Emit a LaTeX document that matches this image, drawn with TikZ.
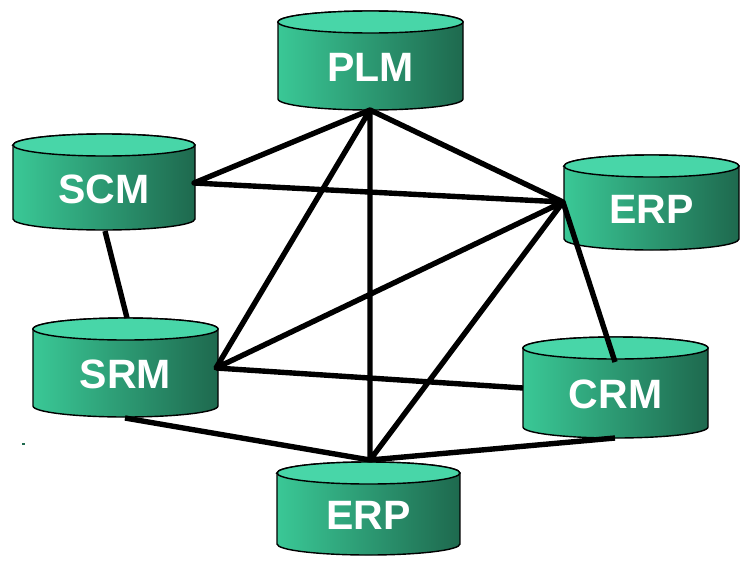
\documentclass[tikz,border=0pt]{standalone}
\usepackage{fontspec}
\setmainfont{Liberation Sans}
\definecolor{dbleft}{RGB}{58,200,150}
\definecolor{dbright}{RGB}{30,105,78}
\definecolor{dbtop}{RGB}{72,214,168}
\tikzset{
  dblabel/.style={text=white,font=\bfseries\fontsize{35}{40}\selectfont,inner sep=0pt},
  link/.style={line width=4.6pt,line join=round,black}
}
% #1 name, #2 left, #3 right, #4 top centre y, #5 bottom centre y, #6 text
\newcommand{\dbcyl}[6]{%
  \pgfmathsetmacro\dbrx{(#3-#2)*0.015}%
  \pgfmathsetmacro\dbcx{(#2+#3)/2}%
  \pgfmathsetmacro\dbty{(#4+#5)/2+7}%
  \draw[line width=1.2pt,left color=dbleft,right color=dbright]
  (#2,#4) -- (#2,#5) arc[start angle=180,end angle=360,x radius=\dbrx cm,y radius=0.33cm]
  -- (#3,#4) arc[start angle=0,end angle=180,x radius=\dbrx cm,y radius=0.33cm] -- cycle;
  \draw[line width=1.2pt,fill=dbtop] (\dbcx,#4) ellipse[x radius=\dbrx cm,y radius=0.33cm];
  \node[dblabel] (#1) at (\dbcx,\dbty) {#6};
}
\begin{document}
\begin{tikzpicture}[x=0.03cm,y=-0.03cm]
  \useasboundingbox (0,0) rectangle (741,561);

  \dbcyl{plm}{278}{463}{22}{99}{PLM}
  \dbcyl{scm}{13}{195}{145}{219}{SCM}
  \dbcyl{erpa}{564}{739}{166}{239}{ERP}
  \dbcyl{srm}{33}{218}{329}{406}{SRM}
  \dbcyl{crm}{523}{708}{348}{427}{CRM}
  \dbcyl{erpb}{277}{460}{473}{544}{ERP}

  \fill[dbright] (22,443) rectangle (25,445);

  \coordinate (plm-s) at (370,110);
  \coordinate (scm-e) at (194,183);
  \coordinate (scm-s) at (105,231);
  \coordinate (erpa-w) at (563,202);
  \coordinate (srm-n) at (127,318);
  \coordinate (srm-e) at (216,368);
  \coordinate (srm-s) at (125,418);
  \coordinate (crm-n) at (615,362);
  \coordinate (crm-w) at (523,388);
  \coordinate (crm-s) at (615,438);
  \coordinate (erpb-n) at (370,460);

  \draw[link] (plm-s) -- (scm-e) -- (erpa-w) -- (plm-s) -- (srm-e) -- (erpa-w)
    -- (erpb-n) -- (plm-s)
    (scm-s) -- (srm-n)
    (srm-e) -- (crm-w)
    (srm-s) -- (erpb-n) -- (crm-s)
    (erpa-w) -- (crm-n);
\end{tikzpicture}
\end{document}
